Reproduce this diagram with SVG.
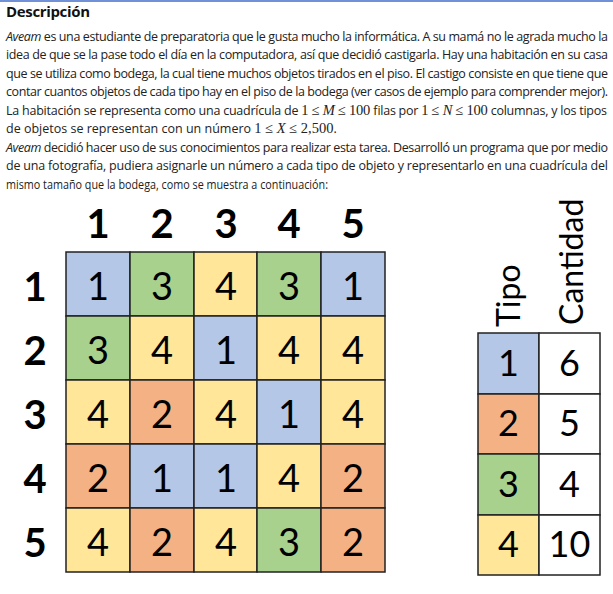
<svg xmlns="http://www.w3.org/2000/svg" width="613" height="594" viewBox="0 0 613 594">
<style>
.body{font-family:"Open Sans","Noto Sans",sans-serif;font-size:12.5px;fill:#222}
.m{font-family:"Liberation Serif","DejaVu Serif",serif;font-size:14.5px}
.mi{font-family:"Liberation Serif","DejaVu Serif",serif;font-size:14.5px;font-style:italic}
.it{font-style:italic}
.title{font-family:"Open Sans","Noto Sans",sans-serif;font-size:15px;font-weight:bold;fill:#111}
.hd{font-family:Lato,"Open Sans",sans-serif;font-size:40px;font-weight:bold;fill:#000;text-anchor:middle}
.num{font-family:Lato,"Open Sans",sans-serif;font-size:38px;fill:#000;text-anchor:middle}
.tnum{font-family:Lato,"Open Sans",sans-serif;font-size:36px;fill:#000;text-anchor:middle}
.rot{font-family:Lato,"Open Sans",sans-serif;font-size:32px;fill:#000}
.cell{stroke:#222;stroke-width:1.5}
.c1{fill:#b4c7e7}.c2{fill:#f4b183}.c3{fill:#a9d18e}.c4{fill:#ffe699}.cw{fill:#fff}
</style>
<rect x="0" y="0" width="613" height="594" fill="#fff"/>
<rect x="0" y="0" width="613" height="2" fill="#7090d8"/>
<g id="description">
<text class="title" x="6" y="17" textLength="84">Descripción</text>
<text class="body" x="6" y="40.5" textLength="602"><tspan class="it">Aveam</tspan> es una estudiante de preparatoria que le gusta mucho la informática. A su mamá no le agrada mucho la</text>
<text class="body" x="6" y="59" textLength="602">idea de que se la pase todo el día en la computadora, así que decidió castigarla. Hay una habitación en su casa</text>
<text class="body" x="6" y="77.5" textLength="602">que se utiliza como bodega, la cual tiene muchos objetos tirados en el piso. El castigo consiste en que tiene que</text>
<text class="body" x="6" y="96" textLength="602">contar cuantos objetos de cada tipo hay en el piso de la bodega (ver casos de ejemplo para comprender mejor).</text>
<text class="body" x="6" y="114.5" textLength="601">La habitación se representa como una cuadrícula de <tspan class="m">1 ≤ </tspan><tspan class="mi">M</tspan><tspan class="m"> ≤ 100</tspan> filas por <tspan class="m">1 ≤ </tspan><tspan class="mi">N</tspan><tspan class="m"> ≤ 100</tspan> columnas, y los tipos</text>
<text class="body" x="6" y="133">de objetos se representan con un número <tspan class="m">1 ≤ </tspan><tspan class="mi">X</tspan><tspan class="m"> ≤ 2,500</tspan>.</text>
<text class="body" x="6" y="151.5" textLength="602"><tspan class="it">Aveam</tspan> decidió hacer uso de sus conocimientos para realizar esta tarea. Desarrolló un programa que por medio</text>
<text class="body" x="6" y="170" textLength="602">de una fotografía, pudiera asignarle un número a cada tipo de objeto y representarlo en una cuadrícula del</text>
<text class="body" x="6" y="188.5" textLength="322" lengthAdjust="spacingAndGlyphs">mismo tamaño que la bodega, como se muestra a continuación:</text>
</g>
<g id="col-headers">
<text class="hd" x="98" y="238">1</text>
<text class="hd" x="162" y="238">2</text>
<text class="hd" x="226" y="238">3</text>
<text class="hd" x="289" y="238">4</text>
<text class="hd" x="353" y="238">5</text>
</g>
<g id="row-headers">
<text class="hd" x="35" y="301">1</text>
<text class="hd" x="35" y="365">2</text>
<text class="hd" x="35" y="429">3</text>
<text class="hd" x="35" y="493">4</text>
<text class="hd" x="35" y="557">5</text>
</g>
<g id="grid">
<g id="r1c1"><rect class="cell c1" x="66" y="252" width="64" height="64"/><text class="num" x="98" y="300">1</text></g>
<g id="r1c2"><rect class="cell c3" x="130" y="252" width="64" height="64"/><text class="num" x="162" y="300">3</text></g>
<g id="r1c3"><rect class="cell c4" x="194" y="252" width="63" height="64"/><text class="num" x="226" y="300">4</text></g>
<g id="r1c4"><rect class="cell c3" x="257" y="252" width="64" height="64"/><text class="num" x="289" y="300">3</text></g>
<g id="r1c5"><rect class="cell c1" x="321" y="252" width="64" height="64"/><text class="num" x="353" y="300">1</text></g>
<g id="r2c1"><rect class="cell c3" x="66" y="316" width="64" height="64"/><text class="num" x="98" y="364">3</text></g>
<g id="r2c2"><rect class="cell c4" x="130" y="316" width="64" height="64"/><text class="num" x="162" y="364">4</text></g>
<g id="r2c3"><rect class="cell c1" x="194" y="316" width="63" height="64"/><text class="num" x="226" y="364">1</text></g>
<g id="r2c4"><rect class="cell c4" x="257" y="316" width="64" height="64"/><text class="num" x="289" y="364">4</text></g>
<g id="r2c5"><rect class="cell c4" x="321" y="316" width="64" height="64"/><text class="num" x="353" y="364">4</text></g>
<g id="r3c1"><rect class="cell c4" x="66" y="380" width="64" height="64"/><text class="num" x="98" y="428">4</text></g>
<g id="r3c2"><rect class="cell c2" x="130" y="380" width="64" height="64"/><text class="num" x="162" y="428">2</text></g>
<g id="r3c3"><rect class="cell c4" x="194" y="380" width="63" height="64"/><text class="num" x="226" y="428">4</text></g>
<g id="r3c4"><rect class="cell c1" x="257" y="380" width="64" height="64"/><text class="num" x="289" y="428">1</text></g>
<g id="r3c5"><rect class="cell c4" x="321" y="380" width="64" height="64"/><text class="num" x="353" y="428">4</text></g>
<g id="r4c1"><rect class="cell c2" x="66" y="444" width="64" height="64"/><text class="num" x="98" y="492">2</text></g>
<g id="r4c2"><rect class="cell c1" x="130" y="444" width="64" height="64"/><text class="num" x="162" y="492">1</text></g>
<g id="r4c3"><rect class="cell c1" x="194" y="444" width="63" height="64"/><text class="num" x="226" y="492">1</text></g>
<g id="r4c4"><rect class="cell c4" x="257" y="444" width="64" height="64"/><text class="num" x="289" y="492">4</text></g>
<g id="r4c5"><rect class="cell c2" x="321" y="444" width="64" height="64"/><text class="num" x="353" y="492">2</text></g>
<g id="r5c1"><rect class="cell c4" x="66" y="508" width="64" height="64"/><text class="num" x="98" y="556">4</text></g>
<g id="r5c2"><rect class="cell c2" x="130" y="508" width="64" height="64"/><text class="num" x="162" y="556">2</text></g>
<g id="r5c3"><rect class="cell c4" x="194" y="508" width="63" height="64"/><text class="num" x="226" y="556">4</text></g>
<g id="r5c4"><rect class="cell c3" x="257" y="508" width="64" height="64"/><text class="num" x="289" y="556">3</text></g>
<g id="r5c5"><rect class="cell c2" x="321" y="508" width="64" height="64"/><text class="num" x="353" y="556">2</text></g>
</g>
<g id="table-headers">
<text class="rot" transform="translate(520,327) rotate(-90)">Tipo</text>
<text class="rot" transform="translate(583,325) rotate(-90)">Cantidad</text>
</g>
<g id="table">
<g id="t1"><rect class="cell c1" x="478" y="333" width="61" height="61"/><text class="tnum" x="508.5" y="376">1</text><rect class="cell cw" x="539" y="333" width="61" height="61"/><text class="tnum" x="569.5" y="376">6</text></g>
<g id="t2"><rect class="cell c2" x="478" y="394" width="61" height="60"/><text class="tnum" x="508.5" y="436">2</text><rect class="cell cw" x="539" y="394" width="61" height="60"/><text class="tnum" x="569.5" y="436">5</text></g>
<g id="t3"><rect class="cell c3" x="478" y="454" width="61" height="61"/><text class="tnum" x="508.5" y="497">3</text><rect class="cell cw" x="539" y="454" width="61" height="61"/><text class="tnum" x="569.5" y="497">4</text></g>
<g id="t4"><rect class="cell c4" x="478" y="515" width="61" height="60"/><text class="tnum" x="508.5" y="557">4</text><rect class="cell cw" x="539" y="515" width="61" height="60"/><text class="tnum" x="569.5" y="557">10</text></g>
</g>
</svg>
